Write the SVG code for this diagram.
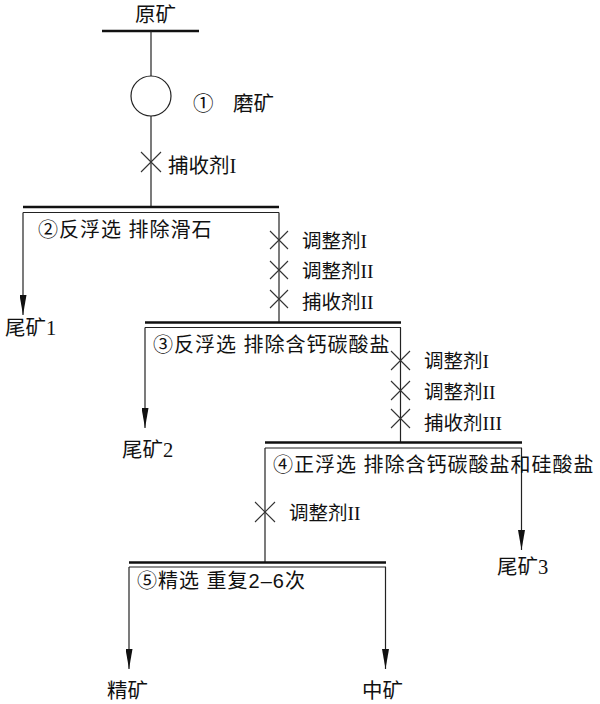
<svg xmlns="http://www.w3.org/2000/svg" width="600" height="704" viewBox="0 0 600 704">
<style>
.ln{stroke:#222;stroke-width:1.2;fill:none}
.bar{stroke:#111;stroke-width:2.6;fill:none}
.x{stroke:#333;stroke-width:1.1;fill:none}
.t{font-family:"Liberation Serif","Noto Sans CJK SC",serif;font-size:19.5px;fill:#111}
.o{font-family:"Liberation Serif","Noto Sans CJK SC",serif;font-size:20.5px;fill:#111}
.s{font-family:"Liberation Sans","Noto Sans CJK SC",sans-serif;font-size:20px;letter-spacing:1px;fill:#111}
</style>
<defs>
<marker id="ah" viewBox="0 -3.5 20 7" refX="20" refY="0" markerWidth="20" markerHeight="7" markerUnits="userSpaceOnUse" orient="auto">
<path d="M0,-3.5 L20,0 L0,3.5 z" fill="#111"/>
</marker>
</defs>
<rect width="600" height="704" fill="#fff"/>
<g id="connectors">
<line class="bar" x1="102" y1="31" x2="199" y2="31"/>
<line class="ln" x1="151" y1="31" x2="151" y2="76"/>
<line class="ln" x1="151" y1="116" x2="151" y2="207"/>
<path class="x" d="M141,152 L161,172 M161,152 L141,172"/>
<line class="ln" x1="23" y1="212.5" x2="23" y2="315" marker-end="url(#ah)"/>
<line class="ln" x1="279" y1="212.5" x2="279" y2="322"/>
<path class="x" d="M270,231 L288,249 M288,231 L270,249"/>
<path class="x" d="M270,261 L288,279 M288,261 L270,279"/>
<path class="x" d="M270,290 L288,308 M288,290 L270,308"/>
<line class="ln" x1="145" y1="327.5" x2="145" y2="428" marker-end="url(#ah)"/>
<line class="ln" x1="400.5" y1="327.5" x2="400.5" y2="442"/>
<path class="x" d="M391,351 L410,370 M410,351 L391,370"/>
<path class="x" d="M391,381 L410,400 M410,381 L391,400"/>
<path class="x" d="M391,409 L410,428 M410,409 L391,428"/>
<line class="ln" x1="265" y1="448" x2="265" y2="562"/>
<path class="x" d="M255,502 L275,522 M275,502 L255,522"/>
<line class="ln" x1="521.5" y1="448" x2="521.5" y2="550" marker-end="url(#ah)"/>
<line class="ln" x1="129" y1="567" x2="129" y2="669" marker-end="url(#ah)"/>
<line class="ln" x1="385.5" y1="567" x2="385.5" y2="669" marker-end="url(#ah)"/>
</g>
<g id="n0"><text class="o" x="135" y="22">原矿</text></g>
<g id="n1">
<circle class="ln" cx="151" cy="96" r="20"/>
<text class="o" x="193" y="111">①</text>
<text class="o" x="233" y="111">磨矿</text>
</g>
<g id="r1"><text class="o" x="168" y="173">捕收剂I</text></g>
<g id="n2">
<line class="bar" x1="23" y1="207" x2="279" y2="207"/>
<line class="ln" x1="23" y1="212.5" x2="279" y2="212.5"/>
<text class="s" x="38" y="237">②反浮选 排除滑石</text>
</g>
<g id="r2">
<text class="t" x="302" y="248">调整剂I</text>
<text class="t" x="302" y="278">调整剂II</text>
<text class="t" x="302" y="309">捕收剂II</text>
</g>
<g id="o1"><text class="o" x="5" y="335">尾矿1</text></g>
<g id="n3">
<line class="bar" x1="145" y1="322.5" x2="401" y2="322.5"/>
<line class="ln" x1="145" y1="327.5" x2="401" y2="327.5"/>
<text class="s" x="153" y="352">③反浮选 排除含钙碳酸盐</text>
</g>
<g id="r3">
<text class="t" x="424" y="368">调整剂I</text>
<text class="t" x="424" y="399">调整剂II</text>
<text class="t" x="424" y="430">捕收剂III</text>
</g>
<g id="o2"><text class="o" x="122" y="457">尾矿2</text></g>
<g id="n4">
<line class="bar" x1="265" y1="442.5" x2="522" y2="442.5"/>
<line class="ln" x1="265" y1="448" x2="522" y2="448"/>
<text class="s" x="273" y="472">④正浮选 排除含钙碳酸盐和硅酸盐</text>
</g>
<g id="r4"><text class="t" x="289" y="520">调整剂II</text></g>
<g id="o3"><text class="o" x="497" y="574">尾矿3</text></g>
<g id="n5">
<line class="bar" x1="129" y1="562.5" x2="386" y2="562.5"/>
<line class="ln" x1="129" y1="567" x2="386" y2="567"/>
<text class="s" x="137" y="588">⑤精选 重复2–6次</text>
</g>
<g id="o4"><text class="o" x="107" y="698">精矿</text></g>
<g id="o5"><text class="o" x="362" y="698">中矿</text></g>
</svg>
